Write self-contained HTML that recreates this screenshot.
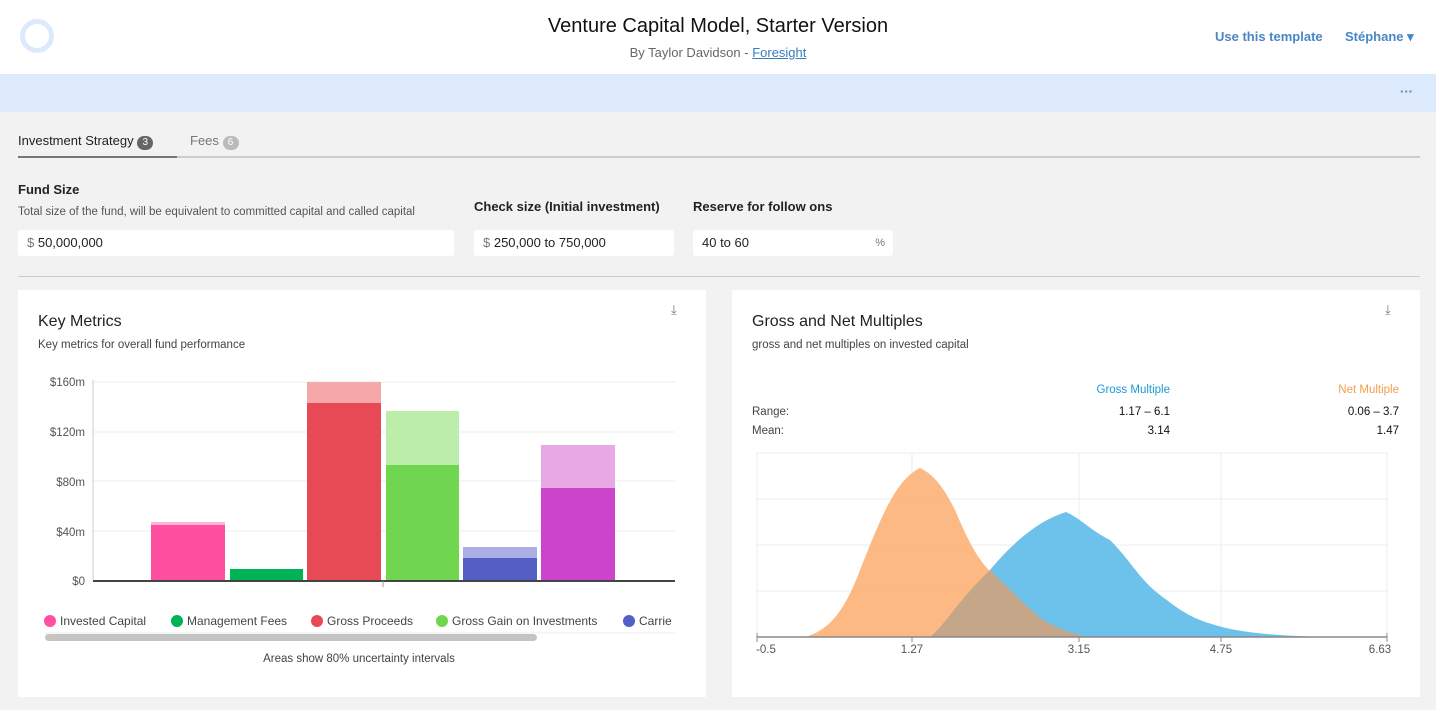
<!DOCTYPE html>
<html><head><meta charset="utf-8"><style>
*{margin:0;padding:0;box-sizing:border-box}
body{width:1436px;height:710px;background:#f2f2f2;font-family:"Liberation Sans",sans-serif;position:relative;overflow:hidden;color:#222}
.a{position:absolute;white-space:nowrap}
.inp{position:absolute;background:#fff;border-radius:3px;height:26px;font-size:13px;line-height:26px;padding-left:9px;color:#222}
.card{position:absolute;background:#fff;top:290px;height:407px}
</style></head><body>
<div class="a" style="left:0;top:0;width:1436px;height:74px;background:#fff"></div>
<div class="a" style="left:20px;top:19px;width:34px;height:34px;border:5px solid #dceafb;border-radius:50%"></div>
<div class="a" style="left:0;width:1436px;top:15px;text-align:center;font-size:20px;color:#111">Venture Capital Model, Starter Version</div>
<div class="a" style="left:0;width:1436px;top:45px;text-align:center;font-size:13px;color:#666">By Taylor Davidson - <span style="color:#3a7bbf;text-decoration:underline">Foresight</span></div>
<div class="a" style="left:1215px;top:29px;font-size:13px;font-weight:bold;color:#4a86c5">Use this template</div>
<div class="a" style="left:1345px;top:29px;font-size:13px;font-weight:bold;color:#4a86c5">Stéphane ▾</div>
<div class="a" style="left:0;top:74px;width:1436px;height:38px;background:#dceafb"></div>
<div class="a" style="left:1400px;top:84px;font-size:13px;color:#4a86c5;font-weight:bold">···</div>
<div class="a" style="left:18px;top:133px;font-size:13px;color:#222">Investment Strategy <span style="display:inline-block;width:16px;height:14px;border-radius:7px;background:#666;color:#fff;font-size:10px;text-align:center;line-height:14px">3</span></div>
<div class="a" style="left:190px;top:133px;font-size:13px;color:#777">Fees <span style="display:inline-block;width:16px;height:14px;border-radius:7px;background:#bbb;color:#fff;font-size:10px;text-align:center;line-height:14px">6</span></div>
<div class="a" style="left:18px;top:156px;width:1402px;height:2px;background:#ccc"></div>
<div class="a" style="left:18px;top:156px;width:159px;height:2px;background:#777"></div>
<div class="a" style="left:18px;top:182px;font-size:13px;font-weight:bold">Fund Size</div>
<div class="a" style="left:18px;top:206px;font-size:11.5px;color:#555">Total size of the fund, will be equivalent to committed capital and called capital</div>
<div class="inp" style="left:18px;top:230px;width:436px"><span style="color:#777">$</span> 50,000,000</div>
<div class="a" style="left:474px;top:199px;font-size:13px;font-weight:bold">Check size (Initial investment)</div>
<div class="inp" style="left:474px;top:230px;width:200px"><span style="color:#777">$</span> 250,000 to 750,000</div>
<div class="a" style="left:693px;top:199px;font-size:13px;font-weight:bold">Reserve for follow ons</div>
<div class="inp" style="left:693px;top:230px;width:200px">40 to 60<span style="position:absolute;right:8px;color:#777;font-size:11px">%</span></div>
<div class="a" style="left:18px;top:276px;width:1402px;height:1px;background:#ccc"></div>

<div class="card" style="left:18px;width:688px"></div>
<div class="card" style="left:732px;width:688px"></div>
<div class="a" style="left:38px;top:313px;font-size:16px">Key Metrics</div>
<div class="a" style="left:38px;top:339px;font-size:11.5px;color:#444">Key metrics for overall fund performance</div>
<div class="a" style="left:752px;top:313px;font-size:16px">Gross and Net Multiples</div>
<div class="a" style="left:752px;top:339px;font-size:11.5px;color:#444">gross and net multiples on invested capital</div>
<div class="a" style="left:671px;top:302px;font-size:13px;color:#777">⤓</div>
<div class="a" style="left:1385px;top:302px;font-size:13px;color:#777">⤓</div>

<svg class="a" style="left:0;top:0" width="1436" height="710" font-family="Liberation Sans, sans-serif">
<g font-size="11.5" fill="#555" text-anchor="end">
<text x="85" y="386">$160m</text><text x="85" y="436">$120m</text><text x="85" y="486">$80m</text><text x="85" y="536">$40m</text><text x="85" y="585">$0</text></g>
<g stroke="#eee"><line x1="93" x2="675" y1="382" y2="382"/><line x1="93" x2="675" y1="432" y2="432"/><line x1="93" x2="675" y1="481" y2="481"/><line x1="93" x2="675" y1="531" y2="531"/></g>
<line x1="93" x2="93" y1="380" y2="581" stroke="#ccc"/>
<rect x="151" y="522" width="74" height="59" fill="#f9b4d6"/><rect x="151" y="525" width="74" height="56" fill="#ff4fa0"/>
<rect x="230" y="569" width="73" height="12" fill="#00b356"/>
<rect x="307" y="382" width="74" height="199" fill="#f6a7aa"/><rect x="307" y="403" width="74" height="178" fill="#e84a55"/>
<rect x="386" y="411" width="73" height="170" fill="#bdedaa"/><rect x="386" y="465" width="73" height="116" fill="#70d64f"/>
<rect x="463" y="547" width="74" height="34" fill="#aab0e3"/><rect x="463" y="558" width="74" height="23" fill="#535fc4"/>
<rect x="541" y="445" width="74" height="136" fill="#e8a8e3"/><rect x="541" y="488" width="74" height="93" fill="#cc44cc"/>
<line x1="93" x2="675" y1="581" y2="581" stroke="#444" stroke-width="2"/>
<line x1="383" x2="383" y1="581" y2="587" stroke="#999"/>
<g font-size="12" fill="#444">
<circle cx="50" cy="621" r="6" fill="#ff4fa0"/><text x="60" y="625">Invested Capital</text>
<circle cx="177" cy="621" r="6" fill="#00b356"/><text x="187" y="625">Management Fees</text>
<circle cx="317" cy="621" r="6" fill="#e84a55"/><text x="327" y="625">Gross Proceeds</text>
<circle cx="442" cy="621" r="6" fill="#70d64f"/><text x="452" y="625">Gross Gain on Investments</text>
<circle cx="629" cy="621" r="6" fill="#535fc4"/><text x="639" y="625">Carrie</text></g>
<line x1="45" x2="675" y1="633" y2="633" stroke="#eee"/>
<rect x="45" y="634" width="492" height="7" rx="3.5" fill="#c4c4c4"/>
<text x="359" y="662" font-size="11.5" fill="#444" text-anchor="middle">Areas show 80% uncertainty intervals</text>

<g font-size="11.5" text-anchor="end">
<text x="1170" y="393" fill="#1a9ad6">Gross Multiple</text><text x="1399" y="393" fill="#f5a04a">Net Multiple</text>
<text x="1170" y="415" fill="#111">1.17 – 6.1</text><text x="1399" y="415" fill="#111">0.06 – 3.7</text>
<text x="1170" y="434" fill="#111">3.14</text><text x="1399" y="434" fill="#111">1.47</text></g>
<g font-size="11.5" fill="#444"><text x="752" y="415">Range:</text><text x="752" y="434">Mean:</text></g>
<rect x="757" y="453" width="630" height="184" fill="none" stroke="#eee"/>
<g stroke="#eee"><line x1="757" x2="1387" y1="499" y2="499"/><line x1="757" x2="1387" y1="545" y2="545"/><line x1="757" x2="1387" y1="591" y2="591"/>
<line x1="912" x2="912" y1="453" y2="637"/><line x1="1079" x2="1079" y1="453" y2="637"/><line x1="1221" x2="1221" y1="453" y2="637"/></g>
<path d="M930,637 C950,620 960,595 990,570 C1015,540 1040,520 1066,512 C1080,518 1090,530 1110,540 C1130,560 1140,580 1160,595 C1180,610 1190,618 1215,625 C1240,633 1280,636 1330,637 Z" fill="#6cc2ea"/>
<path d="M805,637 C830,630 845,610 860,570 C880,520 895,480 920,468 C935,475 945,490 955,510 C970,545 980,565 1000,580 C1020,600 1035,620 1060,630 C1070,635 1080,636 1090,637 Z" fill="#fdb176" fill-opacity="0.9"/>
<path d="M930,637 C945,625 955,605 990,570 C1000,580 1020,600 1040,618 C1055,628 1075,635 1090,637 Z" fill="#c6a689"/>
<line x1="757" x2="1387" y1="637" y2="637" stroke="#888" stroke-width="1.5"/>
<g stroke="#888"><line x1="757" x2="757" y1="633" y2="642"/><line x1="1387" x2="1387" y1="633" y2="642"/><line x1="912" x2="912" y1="637" y2="642"/><line x1="1079" x2="1079" y1="637" y2="642"/><line x1="1221" x2="1221" y1="637" y2="642"/></g>
<g font-size="11.5" fill="#555" text-anchor="middle"><text x="766" y="653">-0.5</text><text x="912" y="653">1.27</text><text x="1079" y="653">3.15</text><text x="1221" y="653">4.75</text><text x="1380" y="653">6.63</text></g>
</svg>
</body></html>
